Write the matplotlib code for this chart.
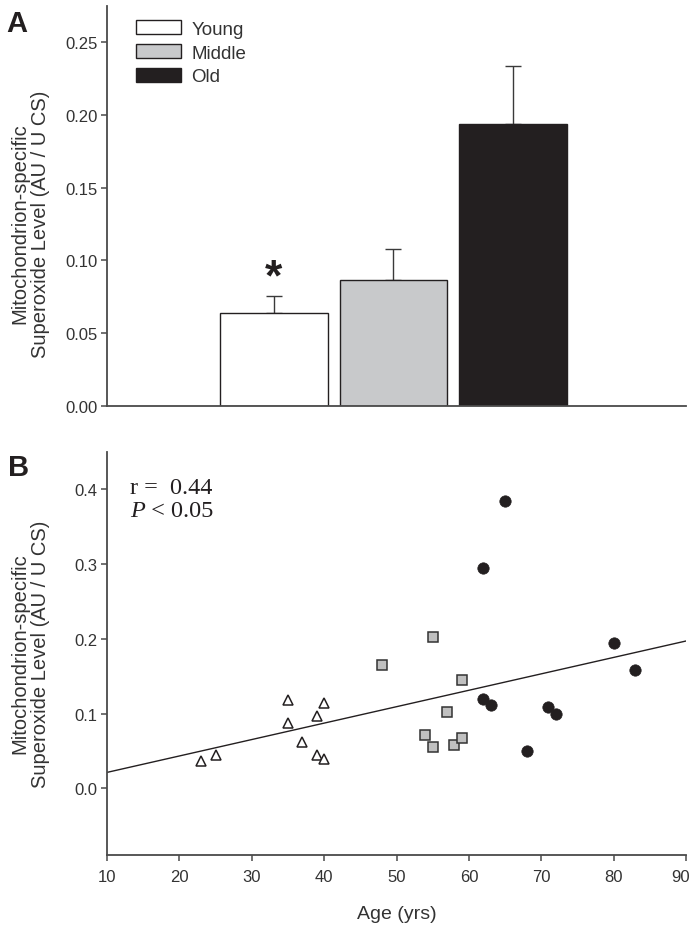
import matplotlib
matplotlib.use("Agg")
import matplotlib.pyplot as plt
from matplotlib.transforms import ScaledTranslation
import numpy as np

# ---------------- data ----------------
groups = ["Young", "Middle", "Old"]
group_means = [0.0635, 0.0867, 0.194]
group_sem = [0.012, 0.021, 0.040]
group_colors = ["#ffffff", "#c8c9cb", "#231f20"]

young_age = [23, 25, 35, 35, 37, 39, 39, 40, 40]
young_val = [0.037, 0.045, 0.118, 0.088, 0.062, 0.097, 0.045, 0.114, 0.039]
middle_age = [48, 54, 55, 55, 57, 58, 59, 59]
middle_val = [0.165, 0.071, 0.203, 0.056, 0.102, 0.058, 0.145, 0.068]
old_age = [62, 62, 63, 65, 68, 71, 72, 80, 83]
old_val = [0.294, 0.119, 0.112, 0.3835, 0.050, 0.109, 0.099, 0.195, 0.158]

fit_x = [10, 90]
fit_y = [0.0214, 0.197]

a_yticks = [0.00, 0.05, 0.10, 0.15, 0.20, 0.25]
b_yticks = [0.0, 0.1, 0.2, 0.3, 0.4]
b_xticks = [10, 20, 30, 40, 50, 60, 70, 80, 90]

# ---------------- style ----------------
W, H = 692, 929
plt.rcParams["font.family"] = ["Liberation Sans", "DejaVu Sans"]
INK = "#231f20"
AX = "#4a4a4a"
TXT = "#333333"

fig = plt.figure(figsize=(W / 100, H / 100), dpi=100)


def fx(px):
    return px / W


def fy(py):
    return 1 - py / H


def style_axes(ax):
    for s in ["top", "right"]:
        ax.spines[s].set_visible(False)
    for s in ["left", "bottom"]:
        ax.spines[s].set_color(AX)
        ax.spines[s].set_linewidth(1.3)
    ax.tick_params(direction="out", length=4, width=1.1, color=AX,
                   labelsize=12, labelcolor=TXT, pad=3)


# ---------------- panel A ----------------
axA = fig.add_axes([fx(107), fy(406.7), fx(686) - fx(107), fy(7) - fy(406.7)])
style_axes(axA)
xpos = np.arange(len(groups))
bars = axA.bar(xpos, group_means, width=0.9, color=group_colors,
               edgecolor=INK, linewidth=1.0, zorder=2)
axA.errorbar(xpos, group_means, yerr=[np.zeros(len(groups)), group_sem],
             fmt="none", ecolor="#3a3a3a", elinewidth=1.0, capsize=5.5,
             capthick=1.0, zorder=1)
axA.set_xlim(-1.397, 3.448)
axA.set_ylim(0, 0.275)
axA.set_yticks(a_yticks)
axA.set_yticklabels([f"{v:.2f}" for v in a_yticks])
axA.set_xticks([])
axA.text(xpos[0], group_means[0] + group_sem[0] - 0.0015, "*",
         ha="center", va="bottom", fontsize=32, fontweight="bold", color=INK)

leg = axA.legend(bars, groups, loc="upper left",
                 bbox_to_anchor=(0.05, 0.965), frameon=False, fontsize=13.5,
                 handlelength=2.4, handleheight=0.8, labelspacing=0.33,
                 handletextpad=0.55, borderpad=0, borderaxespad=0)
for t in leg.get_texts():
    t.set_color(TXT)

# ---------------- panel B ----------------
axB = fig.add_axes([fx(107), fy(856), fx(686) - fx(107), fy(452.7) - fy(856)])
style_axes(axB)
axB.tick_params(axis="x", pad=6)
axB.plot(fit_x, fit_y, color=INK, linewidth=1.0, zorder=1)
axB.plot(young_age, young_val, linestyle="none", marker="^", markersize=7.5,
         markerfacecolor="white", markeredgecolor=INK, markeredgewidth=1.1,
         zorder=3)
axB.plot(middle_age, middle_val, linestyle="none", marker="s", markersize=6.8,
         markerfacecolor="#c0c0c0", markeredgecolor=TXT,
         markeredgewidth=1.1, zorder=3)
axB.plot(old_age, old_val, linestyle="none", marker="o", markersize=8.2,
         markerfacecolor=INK, markeredgecolor=INK, markeredgewidth=0.5,
         zorder=3)
axB.set_xlim(10, 90)
axB.set_ylim(-0.089, 0.45)
axB.set_xticks(b_xticks)
axB.set_yticks(b_yticks)
axB.set_yticklabels([f"{v:.1f}" for v in b_yticks])
axB.set_xlabel("Age (yrs)", fontsize=14, color=TXT, labelpad=15)
last = axB.get_xticklabels()[-1]
last.set_transform(last.get_transform() +
                   ScaledTranslation(-4 / 72, 0, fig.dpi_scale_trans))

serif = ["Liberation Serif", "DejaVu Serif"]
axB.text(0.04, 0.897, "r =  0.44", transform=axB.transAxes, fontsize=17.5,
         family=serif, color=INK, va="baseline")
ptxt = axB.text(0.04, 0.84, "P", transform=axB.transAxes, fontsize=17.5,
                family=serif, style="italic", color=INK, va="baseline")
axB.annotate(" < 0.05", xy=(1, 0), xycoords=ptxt, fontsize=17.5,
             family=serif, color=INK, va="bottom", ha="left")

# ---------------- labels ----------------
ylab = "Mitochondrion-specific\nSuperoxide Level (AU / U CS)"
fig.text(fx(30), fy(224), ylab, rotation=90, ha="center", va="center",
         fontsize=14.5, color=TXT, linespacing=1.1)
fig.text(fx(30), fy(654), ylab, rotation=90, ha="center", va="center",
         fontsize=14.5, color=TXT, linespacing=1.1)
fig.text(fx(6), fy(32), "A", fontsize=21, fontweight="bold", color=INK,
         ha="left", va="baseline")
fig.text(fx(8), fy(476), "B", fontsize=21, fontweight="bold", color=INK,
         ha="left", va="baseline")

fig.savefig("out.png", dpi=100)
